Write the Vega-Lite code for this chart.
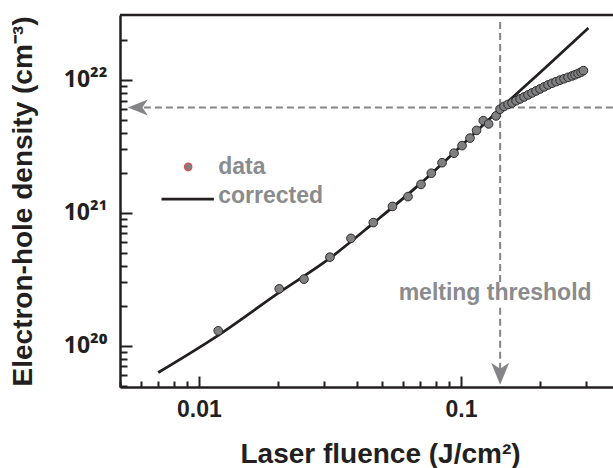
{
  "$schema": "https://vega.github.io/schema/vega-lite/v6.json",
  "width": 493,
  "height": 372,
  "autosize": {"type": "none"},
  "padding": {"left": 120, "top": 15, "right": 0, "bottom": 81},
  "background": "white",
  "view": {"stroke": null},
  "datasets": {
    "measured": [
      {"x": 0.01185, "y": 1.297e20}, {"x": 0.02025, "y": 2.683e20}, {"x": 0.02517, "y": 3.173e20},
      {"x": 0.03162, "y": 4.644e20}, {"x": 0.03803, "y": 6.43e20}, {"x": 0.04627, "y": 8.455e20},
      {"x": 0.05476, "y": 1.119e21}, {"x": 0.06276, "y": 1.326e21}, {"x": 0.07037, "y": 1.638e21},
      {"x": 0.07702, "y": 1.988e21}, {"x": 0.08464, "y": 2.385e21}, {"x": 0.09404, "y": 2.811e21},
      {"x": 0.1009, "y": 3.206e21}, {"x": 0.1082, "y": 3.651e21}, {"x": 0.1146, "y": 4.172e21},
      {"x": 0.1216, "y": 4.943e21}, {"x": 0.1274, "y": 4.669e21}, {"x": 0.136, "y": 5.362e21},
      {"x": 0.1409, "y": 6.022e21}, {"x": 0.1459, "y": 6.321e21}, {"x": 0.1512, "y": 6.543e21},
      {"x": 0.1566, "y": 6.716e21}, {"x": 0.1622, "y": 6.976e21}, {"x": 0.168, "y": 7.196e21},
      {"x": 0.174, "y": 7.451e21}, {"x": 0.1802, "y": 7.713e21}, {"x": 0.1866, "y": 7.986e21},
      {"x": 0.1933, "y": 8.266e21}, {"x": 0.2002, "y": 8.556e21}, {"x": 0.2074, "y": 8.858e21},
      {"x": 0.2148, "y": 9.171e21}, {"x": 0.2225, "y": 9.445e21}, {"x": 0.2305, "y": 9.71e21},
      {"x": 0.2387, "y": 9.966e21}, {"x": 0.2472, "y": 1.021e22}, {"x": 0.2561, "y": 1.046e22},
      {"x": 0.2653, "y": 1.072e22}, {"x": 0.2723, "y": 1.094e22}, {"x": 0.2796, "y": 1.119e22},
      {"x": 0.2871, "y": 1.144e22}, {"x": 0.293, "y": 1.175e22}
    ],
    "corrected": [
      {"x": 0.006994, "y": 6.298e19}, {"x": 0.01185, "y": 1.1995e20}, {"x": 0.02008, "y": 2.49e20},
      {"x": 0.03162, "y": 4.564e20}, {"x": 0.04627, "y": 8.368e20}, {"x": 0.06975, "y": 1.652e21},
      {"x": 0.09913, "y": 3.134e21}, {"x": 0.1409, "y": 6.053e21}, {"x": 0.2092, "y": 1.231e22},
      {"x": 0.3062, "y": 2.46e22}
    ],
    "dashed": [
      {"x": 0.0056, "y": 6.2e21, "x2": 0.38, "y2": 6.2e21},
      {"x": 0.141, "y": 2.73e22, "x2": 0.141, "y2": 2.98e20},
      {"x": 0.141, "y": 1.93e20, "x2": 0.141, "y2": 5.6e19}
    ],
    "frame": [
      {"x": 0.005, "y": 3.08e22, "x2": 0.38, "y2": 3.08e22}
    ],
    "legendLine": [
      {"x": 0.0072, "y": 1.27e21, "x2": 0.01141, "y2": 1.27e21}
    ],
    "legendDot": [
      {"x": 0.0091, "y": 2.22e21}
    ],
    "legendText": [
      {"x": 0.01185, "y": 2.22e21, "label": "data"},
      {"x": 0.01185, "y": 1.33e21, "label": "corrected"}
    ],
    "threshold": [
      {"x": 0.1349, "y": 2.5e20, "label": "melting threshold"}
    ],
    "arrowLeft": [
      {"x": 0.00585, "y": 6.2e21}
    ],
    "arrowDown": [
      {"x": 0.141, "y": 6.16e19}
    ]
  },
  "encoding": {
    "x": {
      "field": "x", "type": "quantitative",
      "scale": {"type": "log", "domain": [0.005, 0.38], "nice": false, "zero": false},
      "axis": {
        "values": [0.005, 0.006, 0.007, 0.008, 0.009, 0.01, 0.02, 0.03, 0.04, 0.05, 0.06, 0.07, 0.08, 0.09, 0.1, 0.2, 0.3],
        "labelExpr": "datum.value == 0.01 ? '0.01' : datum.value == 0.1 ? '0.1' : ''",
        "tickSize": {"condition": {"test": "datum.value == 0.01 || datum.value == 0.1", "value": -11}, "value": -6},
        "tickWidth": 2, "tickColor": "#231f20",
        "domainColor": "#231f20", "domainWidth": 2.5,
        "grid": false, "labelOverlap": false, "labelFlush": false,
        "labelFont": "Liberation Sans", "labelFontSize": 23, "labelFontWeight": "bold", "labelColor": "#231f20",
        "labelPadding": 22,
        "title": "Laser fluence (J/cm²)",
        "titleFont": "Liberation Sans", "titleFontSize": 28, "titleFontWeight": "bold", "titleColor": "#231f20",
        "titlePadding": 14, "titleX": 260
      }
    },
    "y": {
      "field": "y", "type": "quantitative",
      "scale": {"type": "log", "domain": [4.9e19, 3.08e22], "nice": false, "zero": false},
      "axis": {
        "values": [5e19, 6e19, 7e19, 8e19, 9e19, 1e20, 2e20, 3e20, 4e20, 5e20, 6e20, 7e20, 8e20, 9e20, 1e21, 2e21, 3e21, 4e21, 5e21, 6e21, 7e21, 8e21, 9e21, 1e22, 2e22],
        "labelExpr": "datum.value == 1e20 ? '10²⁰' : datum.value == 1e21 ? '10²¹' : datum.value == 1e22 ? '10²²' : ''",
        "tickSize": {"condition": {"test": "datum.value == 1e20 || datum.value == 1e21 || datum.value == 1e22", "value": -12}, "value": -7},
        "tickWidth": 2, "tickColor": "#231f20",
        "domainColor": "#231f20", "domainWidth": 2.5,
        "grid": false, "labelOverlap": false, "labelFlush": false,
        "labelFont": "Noto Sans", "labelFontSize": 23, "labelFontWeight": "bold", "labelColor": "#231f20",
        "labelPadding": 25,
        "title": "Electron-hole density (cm⁻³)",
        "titleFont": "Liberation Sans", "titleFontSize": 28, "titleFontWeight": "bold", "titleColor": "#231f20",
        "titlePadding": 26
      }
    }
  },
  "layer": [
    {
      "data": {"name": "dashed"},
      "mark": {"type": "rule", "color": "#858587", "strokeWidth": 2, "strokeDash": [7, 4]},
      "encoding": {"x2": {"field": "x2"}, "y2": {"field": "y2"}}
    },
    {
      "data": {"name": "frame"},
      "mark": {"type": "rule", "color": "#231f20", "strokeWidth": 2.5},
      "encoding": {"x2": {"field": "x2"}, "y2": {"field": "y2"}}
    },
    {
      "data": {"name": "corrected"},
      "mark": {"type": "line", "color": "#231f20", "strokeWidth": 2.75, "interpolate": "monotone"},
      "encoding": {}
    },
    {
      "data": {"name": "measured"},
      "mark": {"type": "point", "filled": true, "fill": "#808082", "stroke": "#2d2a2b", "strokeWidth": 1, "size": 75, "opacity": 1, "shape": "circle"},
      "encoding": {}
    },
    {
      "data": {"name": "arrowLeft"},
      "mark": {"type": "point", "filled": true, "fill": "#858587", "strokeWidth": 0, "size": 400, "opacity": 1, "shape": "M-1,0L1,-0.8L0.45,0L1,0.8Z"},
      "encoding": {}
    },
    {
      "data": {"name": "arrowDown"},
      "mark": {"type": "point", "filled": true, "fill": "#858587", "strokeWidth": 0, "size": 484, "opacity": 1, "shape": "M0,1L-0.82,-1L0,-0.45L0.82,-1Z"},
      "encoding": {}
    },
    {
      "data": {"name": "legendLine"},
      "mark": {"type": "rule", "color": "#231f20", "strokeWidth": 2.75},
      "encoding": {"x2": {"field": "x2"}, "y2": {"field": "y2"}}
    },
    {
      "data": {"name": "legendDot"},
      "mark": {"type": "point", "filled": true, "fill": "#808082", "stroke": "#e0474c", "strokeWidth": 1.2, "size": 55, "opacity": 1, "shape": "circle"},
      "encoding": {}
    },
    {
      "data": {"name": "legendText"},
      "mark": {"type": "text", "align": "left", "baseline": "middle", "font": "Liberation Sans", "fontSize": 23, "fontWeight": "bold", "color": "#8a8b8d"},
      "encoding": {"text": {"field": "label"}}
    },
    {
      "data": {"name": "threshold"},
      "mark": {"type": "text", "align": "center", "baseline": "middle", "font": "Liberation Sans", "fontSize": 23, "fontWeight": "bold", "color": "#8a8b8d"},
      "encoding": {"text": {"field": "label"}}
    }
  ]
}
